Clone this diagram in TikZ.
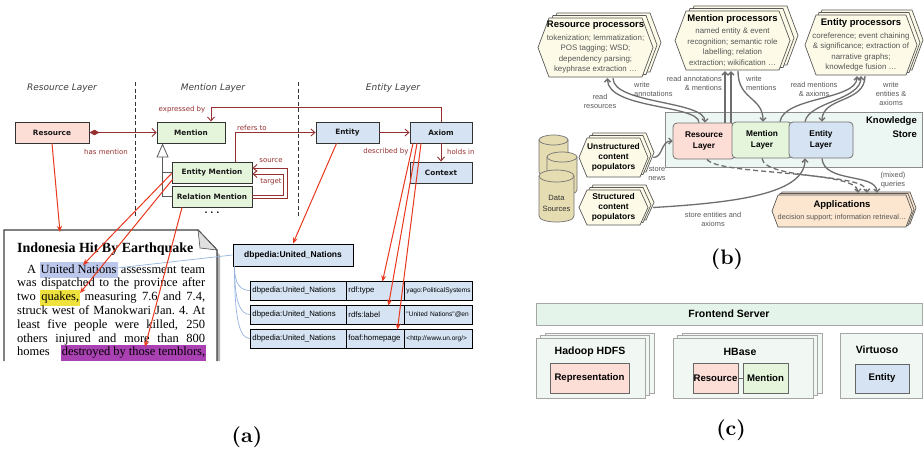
\documentclass[tikz,border=0pt]{standalone}
\usepackage{fontspec}
\newfontfamily\dvs{DejaVu Sans}
\newfontfamily\las{Liberation Sans}
\newfontfamily\lser{Liberation Serif}
\newfontfamily\capbold{lmroman10-bold.otf}
\usetikzlibrary{arrows.meta,calc,shadows}
\definecolor{pinkF}{RGB}{253,222,214}
\definecolor{greenF}{RGB}{228,245,220}
\definecolor{blueF}{RGB}{213,227,243}
\definecolor{dred}{RGB}{150,48,48}
\definecolor{bred}{RGB}{232,56,30}
\definecolor{lblue}{RGB}{150,180,225}
\definecolor{hlblue}{RGB}{188,199,236}
\definecolor{hlyel}{RGB}{240,226,60}
\definecolor{hlpur}{RGB}{170,65,178}
\definecolor{cream}{RGB}{253,251,232}
\definecolor{ksF}{RGB}{236,246,242}
\definecolor{dsF}{RGB}{229,220,178}
\definecolor{appF}{RGB}{252,230,207}
\definecolor{feF}{RGB}{229,244,234}
\definecolor{cbF}{RGB}{241,248,244}
\definecolor{garr}{RGB}{110,110,110}
\definecolor{txtg}{RGB}{85,85,85}
\newcommand\hlt[2]{{\fboxsep=1pt\kern-1pt\colorbox{#1}{\strut#2}\kern-1pt}}
\newcommand\jline[1]{\hbox to 188pt{\spaceskip=3pt plus 1fil\xspaceskip=3pt plus 1fil\relax#1}}
\newcommand\hexstack[8]{%
  \foreach \hk in {2,1,0}{%
    \draw[hexline,fill=#6,shift={({#7*\hk},{#8*\hk})}]
      ({#1+#5},#2) -- ({#3-#5},#2) -- (#3,{(#2+#4)/2}) -- ({#3-#5},#4)
      -- ({#1+#5},#4) -- (#1,{(#2+#4)/2}) -- cycle;}}
\begin{document}
\begin{tikzpicture}[x=1pt,y=-1pt,
  abox/.style={draw=black!80, line width=0.9pt, inner sep=0pt, text=black!90,
    font=\dvs\bfseries\fontsize{7.3}{9}\selectfont,
    drop shadow={shadow xshift=1.2pt,shadow yshift=-1.2pt,opacity=0.35}},
  albl/.style={font=\dvs\fontsize{7}{8}\selectfont, text=dred, inner sep=1pt},
  ltitle/.style={font=\dvs\itshape\fontsize{9}{10}\selectfont, text=black!75},
  sepline/.style={draw=black!80, line width=1pt, dash pattern=on 4pt off 2.5pt},
  dredarr/.style={draw=dred, line width=0.9pt, -{Straight Barb[length=4pt,width=7pt]}},
  redarr/.style={draw=bred, line width=1pt, -{Stealth[length=6pt,width=5pt]}},
  lbl/.style={draw=lblue, line width=0.7pt},
  cell/.style={draw=black, line width=0.9pt, fill=blueF, minimum height=19, inner sep=2pt,
    anchor=west, align=left, font=\las\fontsize{7.8}{9}\selectfont},
  docline/.style={anchor=base west, inner sep=0pt, font=\lser\fontsize{12.5}{13.8}\selectfont},
  hexline/.style={draw=black!65, line width=0.7pt},
  hexnode/.style={inner sep=0pt, align=center, text=txtg, font=\las\fontsize{7.9}{10.5}\selectfont},
  popnode/.style={inner sep=0pt, align=center, font=\las\bfseries\fontsize{8.4}{10}\selectfont},
  layer/.style={draw=black!55, line width=0.8pt, rounded corners=4pt, align=center, inner sep=0pt,
    font=\las\bfseries\fontsize{8.3}{11.5}\selectfont},
  cyl/.style={draw=black!55, fill=dsF, line width=0.7pt},
  garrow/.style={draw=garr, line width=1.3pt, -{Straight Barb[length=3pt,width=6pt]}},
  blbl/.style={font=\las\fontsize{7.4}{9}\selectfont, text=black!65, align=center, inner sep=0pt},
  cstack/.style={draw=black!35, fill=cbF, line width=0.6pt, inner sep=0pt},
  ctitle/.style={font=\las\bfseries\fontsize{10.5}{12}\selectfont, inner sep=0pt},
  cin/.style={draw=black!60, line width=0.6pt, inner sep=0pt, font=\las\bfseries\fontsize{9.6}{11}\selectfont},
  captxt/.style={font=\capbold\fontsize{21}{24}\selectfont, inner sep=0pt}
]
\fill[white] (0,0) rectangle (924,448);
\useasboundingbox (0,0) rectangle (924,448);

% ================= (a) =================
\node[ltitle] (tRL) at (62,88) {Resource Layer};
\node[ltitle] (tML) at (213,88) {Mention Layer};
\node[ltitle] (tEL) at (393,88) {Entity Layer};
\draw[sepline] (135,82) -- (135,218);
\draw[sepline] (298,82) -- (298,218);

% document
\fill[black!30] (217,252) -- (220,255) -- (220,361) -- (217,361) -- cycle;
\draw[draw=black!75, line width=1.3pt] (4,361) -- (4,230) -- (198,230) -- (217,250) -- (217,361);
\filldraw[fill=black!12, draw=black!70, line width=0.6pt] (198,230) -- (200,248) -- (217,250) -- cycle;
\node[anchor=base west, inner sep=0pt, font=\lser\bfseries\fontsize{14}{16}\selectfont] (dtitle) at (17,252) {Indonesia Hit By Earthquake};
\node[docline] (l1) at (17,273) {\jline{\kern10pt A \hlt{hlblue}{United Nations} assessment team}};
\node[docline] (l2) at (17,286.8) {\jline{was dispatched to the province after}};
\node[docline] (l3) at (17,300.6) {\jline{two \hlt{hlyel}{quakes,} measuring 7.6 and 7.4,}};
\node[docline] (l4) at (17,314.4) {\jline{struck west of Manokwari Jan. 4. At}};
\node[docline] (l5) at (17,328.2) {\jline{least five people were killed, 250}};
\node[docline] (l6) at (17,342) {\jline{others injured and more than 800}};
\node[docline] (l7) at (17,355.8) {\jline{homes \hlt{hlpur}{destroyed by those temblors,}}};
\coordinate (c-doc) at (60,232);
\coordinate (c-un) at (83,265);
\coordinate (c-une) at (117,268);
\coordinate (c-qk) at (80,293);
\coordinate (c-ds) at (145,347);

% table
\node[draw=black, line width=1pt, fill=blueF, minimum width=120, minimum height=22, inner sep=0pt,
  font=\las\bfseries\fontsize{8.5}{10}\selectfont] (dbp) at (293,255) {dbpedia:United\_Nations};
\node[cell, text width=92] (r1s) at (250,290.5) {dbpedia:United\_Nations};
\node[cell, text width=54] (r1p) at (346,290.5) {rdf:type};
\node[cell, text width=64, font=\las\fontsize{6.6}{8}\selectfont] (r1o) at (404,290.5) {yago:PoliticalSystems};
\node[cell, text width=92] (r2s) at (250,314.5) {dbpedia:United\_Nations};
\node[cell, text width=54] (r2p) at (346,314.5) {rdfs:label};
\node[cell, text width=64, font=\las\fontsize{6.6}{8}\selectfont] (r2o) at (404,314.5) {"United Nations"@en};
\node[cell, text width=92] (r3s) at (250,338.5) {dbpedia:United\_Nations};
\node[cell, text width=54] (r3p) at (346,338.5) {foaf:homepage};
\node[cell, text width=64, font=\las\fontsize{6.6}{8}\selectfont] (r3o) at (404,338.5) {<http://www.un.org/>};
\draw[lbl] (c-une) -- (dbp.west);
\draw[lbl] ($(dbp.south west)+(2,0)$) .. controls ($(dbp.south west)+(2,17)$) and ($(r1s.west)+(-10,0)$) .. (r1s.west);
\draw[lbl] ($(dbp.south west)+(2,0)$) .. controls ($(dbp.south west)+(2,35)$) and ($(r2s.west)+(-10,0)$) .. (r2s.west);
\draw[lbl] ($(dbp.south west)+(2,0)$) .. controls ($(dbp.south west)+(2,55)$) and ($(r3s.west)+(-10,0)$) .. (r3s.west);

% model boxes
\node[abox, fill=pinkF, minimum width=74, minimum height=21] (res) at (52,132.5) {Resource};
\node[abox, fill=greenF, minimum width=68, minimum height=21] (men) at (191,132.5) {Mention};
\node[abox, fill=greenF, minimum width=80, minimum height=21] (em) at (212,172.5) {Entity Mention};
\node[abox, fill=greenF, minimum width=80, minimum height=21] (rm) at (212,196.5) {Relation Mention};
\node[abox, fill=blueF, minimum width=63, minimum height=21] (ent) at (347.5,132.5) {Entity};
\node[abox, fill=blueF, minimum width=62, minimum height=21] (ax) at (441,132.5) {Axiom};
\node[abox, fill=blueF, minimum width=62, minimum height=21] (ctx) at (441,172.5) {Context};
\node[font=\dvs\bfseries\fontsize{8}{9}\selectfont, inner sep=0pt] (dots) at (212,214) {· · ·};

\draw[dred, line width=0.9pt, {Diamond[length=10pt,width=5.5pt]}-{Straight Barb[length=4pt,width=8pt]}] (res) -- (men);
\node[albl] (lhm) at (106,152) {has mention};
\coordinate (inh) at ($(men.south west)+(6,0)$);
\draw[black!65, line width=0.8pt, {Triangle[open,length=14pt,width=12pt,fill=white]}-] (inh) -- (inh |- rm.west);
\draw[black!65, line width=0.8pt] (inh |- em.west) -- (em.west);
\draw[black!65, line width=0.8pt] (inh |- rm.west) -- (rm.west);
\draw[dredarr] (ax.north) -- ++(0,-14) -| ($(men.north)+(20,0)$);
\node[albl] (lexp) at (182,110) {expressed by};
\draw[dredarr] ($(em.north)+(23,0)$) |- (ent.west);
\node[albl, anchor=south west] (lref) at (236,132) {refers to};
\draw[dredarr] (ent) -- (ax);
\node[albl] (ldesc) at (386,152) {described by};
\draw[dredarr] (ax) -- (ctx);
\node[albl, anchor=west] (lhold) at (446,152) {holds in};
\draw[dredarr] ($(rm.east)+(0,1.5)$) -- ++(35,0) |- ($(em.east)+(0,-4.5)$);
\draw[dredarr] ($(rm.east)+(0,-1.5)$) -- ++(31,0) |- ($(em.east)+(0,1.5)$);
\node[albl] (lsrc) at (271,161) {source};
\node[albl] (ltgt) at (271,182) {target};

% red grounding arrows
\draw[redarr] (res.south) -- (c-doc);
\draw[redarr] ($(em.west)+(0,1)$) -- (c-un);
\draw[redarr] ($(em.south west)+(1,-4)$) -- (c-qk);
\draw[redarr] ($(rm.south)+(-30,0)$) -- (c-ds);
\draw[redarr] ($(ent.south)+(-11,0)$) -- (dbp.north);
\draw[redarr] ($(ax.south)+(-28,0)$) -- ($(r1p.north)+(7,1)$);
\draw[redarr] ($(ax.south)+(-24,0)$) -- ($(r2p.north)+(13,1)$);
\draw[redarr] ($(ax.south)+(-20,0)$) -- ($(r3p.north)+(22,1)$);

% ================= (b) =================
\node[draw=black!45, fill=ksF, line width=0.7pt, minimum width=257, minimum height=55, inner sep=0pt] (ks) at (793.5,139.5) {};
\node[anchor=north east, align=right, inner sep=0pt, font=\las\bfseries\fontsize{9.5}{14}\selectfont] (kst) at (917,116) {Knowledge\\Store};
\node[layer, fill=pinkF, minimum width=62, minimum height=36] (rl) at (704,141) {Resource\\Layer};
\node[layer, fill=greenF, minimum width=60, minimum height=36] (ml) at (762,140) {Mention\\Layer};
\node[layer, fill=blueF, minimum width=64, minimum height=36] (el) at (821,140) {Entity\\Layer};

\hexstack{538}{18}{653}{77}{11}{cream}{4}{-2.5}
\hexstack{675}{11}{790}{70}{11}{cream}{4}{-2.5}
\hexstack{805}{15}{917}{75}{11}{cream}{3}{-2.5}
\hexstack{579}{138}{648}{177}{8}{cream}{3}{-2.5}
\hexstack{579}{190}{648}{225}{8}{cream}{3}{-2.5}
\hexstack{772}{195}{912}{227}{6}{appF}{2}{-1.5}

\node[hexnode, minimum width=115, minimum height=59] (rp) at (595.5,47.5)
  {{\color{black}\bfseries\fontsize{9.5}{11}\selectfont Resource processors}\\[2pt]
   tokenization; lemmatization;\\ POS tagging; WSD;\\ dependency parsing;\\ keyphrase extraction …};
\node[hexnode, minimum width=115, minimum height=59] (mp) at (732.5,40.5)
  {{\color{black}\bfseries\fontsize{9.5}{11}\selectfont Mention processors}\\[2pt]
   named entity \& event\\ recognition; semantic role\\ labelling; relation\\ extraction; wikification …};
\node[hexnode, minimum width=112, minimum height=60] (ep) at (861,45)
  {{\color{black}\bfseries\fontsize{9.5}{11}\selectfont Entity processors}\\[2pt]
   coreference; event chaining\\ \& significance; extraction of\\ narrative graphs;\\ knowledge fusion …};
\node[popnode, minimum width=69, minimum height=39] (up) at (613.5,157.5) {Unstructured\\content\\populators};
\node[popnode, minimum width=69, minimum height=35] (sp) at (613.5,207.5) {Structured\\content\\populators};
\node[hexnode, text=black, minimum width=140, minimum height=32, font=\las\fontsize{7.3}{11}\selectfont] (ap) at (842,211)
  {{\bfseries\fontsize{9.5}{11}\selectfont Applications}\\[1pt]
   {\color{txtg}decision support; information retrieval…}};

% data sources
\filldraw[cyl] (539,140) -- (539,172) .. controls (539,178.7) and (568,178.7) .. (568,172) -- (568,140) -- cycle;
\filldraw[cyl] (553.5,140) ellipse [x radius=14.5, y radius=5];
\filldraw[cyl] (547,157) -- (547,190) .. controls (547,196.7) and (577,196.7) .. (577,190) -- (577,157) -- cycle;
\filldraw[cyl] (562,157) ellipse [x radius=15, y radius=5];
\filldraw[cyl] (539,176) -- (539,216) .. controls (539,224) and (574,224) .. (574,216) -- (574,176) -- cycle;
\filldraw[cyl] (556.5,176) ellipse [x radius=17.5, y radius=6];
\node[align=center, inner sep=0pt, text=black!80, font=\las\fontsize{7.6}{11}\selectfont] (ds) at (556.5,203.5) {Data\\Sources};

% arrows
\draw[garrow] ($(rl.north)+(-5,0)$) .. controls ($(rl.north)+(-5,-18)$) and ($(rp.south)+(12,32)$) .. ($(rp.south)+(12,1)$);
\draw[garrow] ($(rp.south)+(17.5,1)$) .. controls ($(rp.south)+(17.5,27)$) and ($(rl.north)+(1,-22)$) .. ($(rl.north)+(1,0)$);
\draw[garrow] ($(rl.north)+(21,0)$) -- ($(mp.south)+(-7.5,1)$);
\draw[garrow] ($(ml.north)+(-31,1)$) -- ($(mp.south)+(-1.5,1)$);
\draw[garrow] ($(mp.south)+(5.5,1)$) .. controls ($(mp.south)+(5.5,30)$) and ($(ml.north)+(1,-25)$) .. ($(ml.north)+(1,0)$);
\draw[garrow] ($(ml.north)+(18,0)$) .. controls ($(ml.north)+(22,-25)$) and ($(ep.south)+(-4,25)$) .. ($(ep.south)+(-4,1)$);
\draw[garrow] ($(el.north)+(-16,0)$) .. controls ($(el.north)+(-12,-20)$) and ($(ep.south)+(0,25)$) .. ($(ep.south)+(0,1)$);
\draw[garrow] ($(ep.south)+(4,1)$) .. controls ($(ep.south)+(4,28)$) and ($(el.north)+(1,-25)$) .. ($(el.north)+(1,0)$);
\draw[garrow] ($(up.east)+(5,0)$) .. controls ($(up.east)+(15,0)$) and ($(rl.west)+(-12,0)$) .. (rl.west);
\draw[garrow] ($(sp.east)+(5,0)$) .. controls ($(sp.east)+(90,-5)$) and ($(el.south)+(-16,35)$) .. ($(el.south)+(-16,0)$);
\draw[garrow, dash pattern=on 5pt off 3pt] ($(rl.south)+(3,0)$) .. controls ($(rl.south)+(15,16)$) and ($(ap.north)+(15,-25)$) .. ($(ap.north)+(16,-2)$);
\draw[garrow, dash pattern=on 5pt off 3pt] (ml.south) .. controls ($(ml.south)+(3,22)$) and ($(ap.north)+(24,-22)$) .. ($(ap.north)+(25,-2)$);
\draw[garrow] ($(el.south)+(1,0)$) .. controls ($(el.south)+(3,25)$) and ($(ap.north)+(34,-22)$) .. ($(ap.north)+(35,-2)$);

\node[blbl] (lrr) at (600,101.5) {read\\resources};
\node[blbl, anchor=west, align=left] (lwa) at (634,89.5) {write\\annotations};
\node[blbl, anchor=east, align=right] (lram) at (722,83.5) {read annotations\\\& mentions};
\node[blbl, anchor=west, align=left] (lwm) at (746,83.5) {write\\mentions};
\node[blbl] (lrma) at (814,89.5) {read mentions\\\& axioms};
\node[blbl] (lwea) at (891,94) {write\\entities \&\\axioms};
\node[blbl] (lsn) at (657,174) {store\\news};
\node[blbl] (lsea) at (713,219) {store entities and\\axioms};
\node[blbl] (lmq) at (893,180) {(mixed)\\queries};

% ================= (c) =================
\node[cstack, fill=feF, minimum width=386, minimum height=22, font=\las\bfseries\fontsize{10.5}{12}\selectfont] (fe) at (729,314) {Frontend Server};
\node[cstack, double copy shadow={shadow xshift=4.5pt, shadow yshift=2.5pt}, minimum width=109, minimum height=60] (hd) at (590.5,368) {};
\node[ctitle] (hdt) at (590,352) {Hadoop HDFS};
\node[cin, fill=pinkF, minimum width=79, minimum height=30] (rep) at (589.5,378) {Representation};
\node[cstack, double copy shadow={shadow xshift=4.5pt, shadow yshift=2.5pt}, minimum width=140, minimum height=60] (hb) at (743,368) {};
\node[ctitle] (hbt) at (740,352) {HBase};
\node[cin, fill=pinkF, minimum width=45, minimum height=30] (hres) at (715.5,378) {Resource};
\node[cin, fill=greenF, minimum width=45, minimum height=30] (hmen) at (765.5,378) {Mention};
\draw[black!60, line width=0.6pt] (hres) -- (hmen);
\node[cstack, minimum width=82, minimum height=65] (vs) at (881,365.5) {};
\node[ctitle] (vst) at (877,350) {Virtuoso};
\node[cin, fill=blueF, minimum width=54, minimum height=29] (vent) at (882,378.5) {Entity};

% captions
\node[captxt] (capa) at (247,437) {(a)};
\node[captxt] (capb) at (727,259) {(b)};
\node[captxt] (capc) at (731,430) {(c)};
\end{tikzpicture}
\end{document}
